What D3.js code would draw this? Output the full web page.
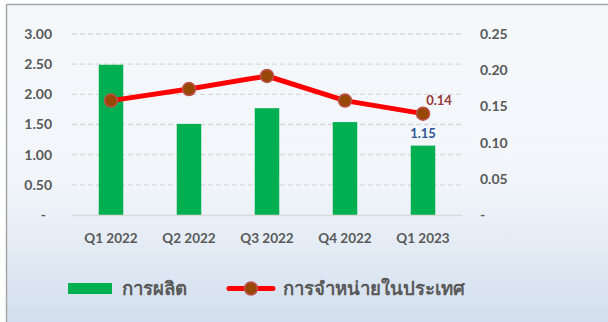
<!DOCTYPE html>
<html>
<head>
<meta charset="utf-8">
<script src="https://cdn.jsdelivr.net/npm/d3@7"></script>
<style>
  html, body { margin: 0; padding: 0; background: #ffffff; }
  svg { display: block; }
  text { font-family: Lato, "Open Sans", "Noto Sans", sans-serif; font-weight: 700; }
</style>
</head>
<body>
<svg id="chart" width="608" height="322"></svg>
<script>
// Quarterly production (bars, left axis) and domestic sales (line, right axis)
const categories = ["Q1 2022", "Q2 2022", "Q3 2022", "Q4 2022", "Q1 2023"];
const production = [2.49, 1.51, 1.77, 1.54, 1.15];
const domesticSales = [0.158, 0.174, 0.192, 0.158, 0.14];
const leftTicks = [0, 0.5, 1, 1.5, 2, 2.5, 3];
const rightTicks = [0, 0.05, 0.10, 0.15, 0.20, 0.25];
const seriesNames = ["การผลิต", "การจำหน่ายในประเทศ"];
const lastBarLabel = "1.15";
const lastPointLabel = "0.14";

const svg = d3.select("#chart");
const W = 608, H = 322;

// panel background with soft vertical gradient
const defs = svg.append("defs");
const grad = defs.append("linearGradient").attr("id", "bg").attr("x1", 0).attr("y1", 0).attr("x2", 0).attr("y2", 1);
grad.append("stop").attr("offset", "0%").attr("stop-color", "#f5f8fb");
grad.append("stop").attr("offset", "55%").attr("stop-color", "#f2f6fa");
grad.append("stop").attr("offset", "100%").attr("stop-color", "#d3dfee");
svg.append("rect").attr("x", 0).attr("y", 0).attr("width", W).attr("height", H).attr("fill", "#ffffff");
svg.append("rect").attr("x", 7).attr("y", 5).attr("width", W - 7).attr("height", H - 5).attr("fill", "url(#bg)");
svg.append("line").attr("x1", 6.5).attr("x2", W).attr("y1", 4.5).attr("y2", 4.5).attr("stroke", "#a6a6a6").attr("stroke-width", 1.5);
svg.append("line").attr("x1", 6.5).attr("x2", 6.5).attr("y1", 4.5).attr("y2", H).attr("stroke", "#a6a6a6").attr("stroke-width", 1.5);

const plot = { left: 72, right: 462, top: 34, bottom: 215 };

const x = d3.scaleBand().domain(categories).range([plot.left, plot.right]).paddingInner(0.686).paddingOuter(0.343);
const xc = d => x(d) + x.bandwidth() / 2;
const yL = d3.scaleLinear().domain([0, 3]).range([plot.bottom, plot.top]);
const yR = d3.scaleLinear().domain([0, 0.25]).range([plot.bottom, plot.top]);

const fmtL = v => v === 0 ? "-" : d3.format(".2f")(v);

// gridlines
svg.append("g").selectAll("line").data(leftTicks.filter(t => t > 0)).join("line")
  .attr("x1", plot.left).attr("x2", plot.right)
  .attr("y1", d => yL(d)).attr("y2", d => yL(d))
  .attr("stroke", "#d9d9d9").attr("stroke-width", 1.3).attr("stroke-dasharray", "5,3");

// left axis
const axL = svg.append("g").attr("transform", `translate(${plot.left},0)`)
  .call(d3.axisLeft(yL).tickValues(leftTicks).tickFormat(fmtL).tickSize(0).tickPadding(20));
axL.select(".domain").remove();
axL.selectAll("text").attr("fill", "#595959").attr("font-size", 14).attr("font-family", "Lato, sans-serif").attr("font-weight", 700);
axL.selectAll(".tick").filter(d => d === 0).select("text").attr("dx", -6);

// right axis
const axR = svg.append("g").attr("transform", `translate(${plot.right},0)`)
  .call(d3.axisRight(yR).tickValues(rightTicks).tickFormat(v => v === 0 ? "-" : d3.format(".2f")(v)).tickSize(0).tickPadding(18));
axR.select(".domain").remove();
axR.selectAll("text").attr("fill", "#595959").attr("font-size", 14).attr("font-family", "Lato, sans-serif").attr("font-weight", 700);

// bars
svg.append("g").selectAll("rect").data(production).join("rect")
  .attr("x", (d, i) => x(categories[i]))
  .attr("width", x.bandwidth())
  .attr("y", d => yL(d))
  .attr("height", d => yL(0) - yL(d))
  .attr("fill", "#00b050");

// baseline
svg.append("line").attr("x1", plot.left).attr("x2", plot.right)
  .attr("y1", plot.bottom + 0.5).attr("y2", plot.bottom + 0.5)
  .attr("stroke", "#d9d9d9").attr("stroke-width", 1.3);

// x axis labels
const axB = svg.append("g").attr("transform", `translate(0,${plot.bottom})`)
  .call(d3.axisBottom(x).tickSize(0).tickPadding(18));
axB.select(".domain").remove();
axB.selectAll("text").attr("fill", "#595959").attr("font-size", 13.5).attr("font-family", "Lato, sans-serif").attr("font-weight", 700);

// line series
const line = d3.line().x((d, i) => xc(categories[i])).y(d => yR(d));
svg.append("path").datum(domesticSales).attr("d", line)
  .attr("fill", "none").attr("stroke", "#ff0000").attr("stroke-width", 5).attr("stroke-linejoin", "round");
svg.append("g").selectAll("circle").data(domesticSales).join("circle")
  .attr("cx", (d, i) => xc(categories[i])).attr("cy", d => yR(d)).attr("r", 6.5)
  .attr("fill", "#974806").attr("stroke", "#c0504d").attr("stroke-width", 1.5);

// value labels for the last quarter
const lastI = categories.length - 1;
svg.append("text").attr("x", xc(categories[lastI])).attr("y", yL(production[lastI]) - 8)
  .attr("text-anchor", "middle").attr("fill", "#2f5597").attr("font-size", 13).text(lastBarLabel);
svg.append("text").attr("x", xc(categories[lastI]) + 16).attr("y", yR(domesticSales[lastI]) - 9)
  .attr("text-anchor", "middle").attr("fill", "#953735").attr("font-size", 13).text(lastPointLabel);

// legend
const lg = svg.append("g");
lg.append("rect").attr("x", 68).attr("y", 283).attr("width", 44).attr("height", 11).attr("fill", "#00b050");
lg.append("text").attr("x", 122).attr("y", 295).attr("fill", "#595959").attr("font-size", 18.6)
  .attr("font-family", "'Noto Sans', sans-serif").text(seriesNames[0]);
lg.append("line").attr("x1", 229).attr("x2", 273).attr("y1", 288.5).attr("y2", 288.5)
  .attr("stroke", "#ff0000").attr("stroke-width", 5).attr("stroke-linecap", "round");
lg.append("circle").attr("cx", 251).attr("cy", 288.5).attr("r", 6.5)
  .attr("fill", "#974806").attr("stroke", "#c0504d").attr("stroke-width", 1.5);
lg.append("text").attr("x", 283).attr("y", 295).attr("fill", "#595959").attr("font-size", 18.6)
  .attr("font-family", "'Noto Sans', sans-serif").text(seriesNames[1]);
</script>
</body>
</html>
